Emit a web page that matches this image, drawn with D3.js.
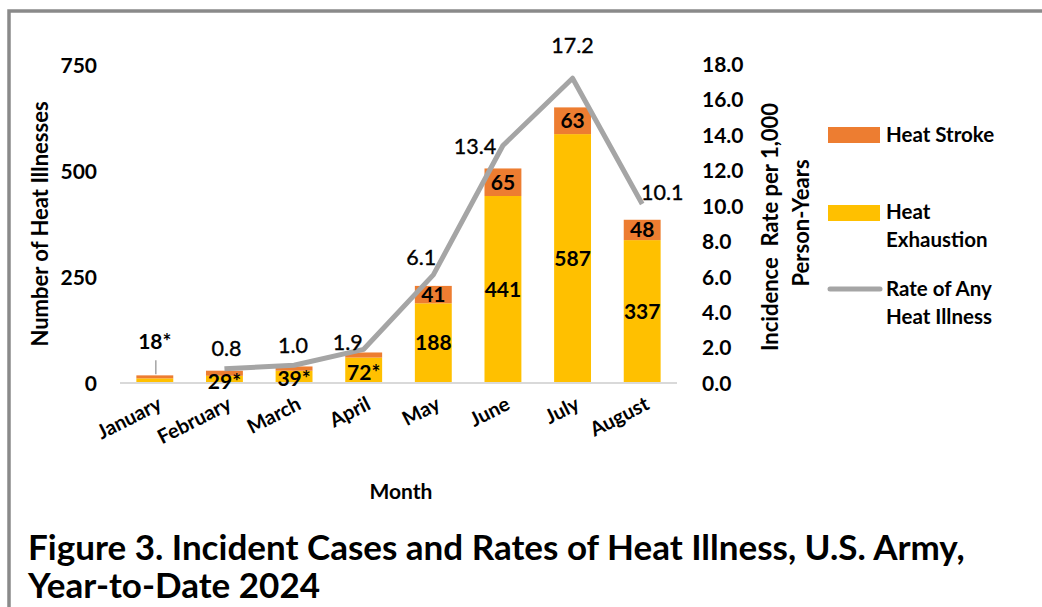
<!DOCTYPE html>
<html>
<head>
<meta charset="utf-8">
<script src="https://cdn.jsdelivr.net/npm/d3@7"></script>
<style>
  html, body { margin: 0; padding: 0; background: #fff; }
  svg { display: block; font-family: Lato, "Open Sans", sans-serif; }
</style>
</head>
<body>
<svg id="chart" width="1042" height="607"></svg>
<script>
// ---------- data ----------
const months = ["January", "February", "March", "April", "May", "June", "July", "August"];
const heatExhaustion = [11, 17, 29, 60, 188, 441, 587, 337];
const heatStroke = [7, 12, 10, 12, 41, 65, 63, 48];
const exhaustionLabels = ["18*", "29*", "39*", "72*", "188", "441", "587", "337"];
const strokeLabels = ["", "", "", "", "41", "65", "63", "48"];
const rateMonths = ["February", "March", "April", "May", "June", "July", "August"];
const rates = [0.8, 1.0, 1.9, 6.1, 13.4, 17.2, 10.1];
const leftTicks = [0, 250, 500, 750];
const rightTicks = [0, 2, 4, 6, 8, 10, 12, 14, 16, 18];

// ---------- layout (not data) ----------
const rateLabelOffsets = [[2, -20], [-1, -20], [-16, -7], [-12, -17], [-28, 1], [0, -33], [20, -12]];
const COLORS = { stroke: "#ED7D31", exhaustion: "#FFC000", rate: "#A5A5A5" };

const svg = d3.select("#chart");
svg.append("rect").attr("width", 1042).attr("height", 607).attr("fill", "#fff");
// outer frame
svg.append("rect").attr("x", 9).attr("y", 11).attr("width", 1100).attr("height", 700)
  .attr("fill", "none").attr("stroke", "#8a8a8a").attr("stroke-width", 3.5);

const x = d3.scaleBand().domain(months).range([120, 677]).paddingInner(0.47).paddingOuter(0.235);
const yL = d3.scaleLinear().domain([0, 750]).range([383, 65]);
const yR = d3.scaleLinear().domain([0, 18]).range([383, 64]);

// left axis
const gL = svg.append("g").attr("transform", "translate(97,0)")
  .call(d3.axisLeft(yL).tickValues(leftTicks).tickSize(0).tickPadding(0));
gL.select(".domain").remove();
gL.selectAll("text").attr("font-size", 21).attr("font-weight", 700).attr("fill", "#000")
  .attr("font-family", "Lato").attr("dy", "0.35em");

// right axis
const gR = svg.append("g").attr("transform", "translate(702,0)")
  .call(d3.axisRight(yR).tickValues(rightTicks).tickFormat(d3.format(".1f")).tickSize(0).tickPadding(0));
gR.select(".domain").remove();
gR.selectAll("text").attr("font-size", 21).attr("font-weight", 700).attr("fill", "#000")
  .attr("font-family", "Lato").attr("dy", "0.35em");

// stacked bars
const stackData = months.map((m, i) => ({ month: m, exhaustion: heatExhaustion[i], stroke: heatStroke[i] }));
const series = d3.stack().keys(["exhaustion", "stroke"])(stackData);
svg.append("g").selectAll("g").data(series).join("g")
  .attr("fill", d => COLORS[d.key])
  .selectAll("rect").data(d => d).join("rect")
  .attr("x", d => x(d.data.month))
  .attr("width", x.bandwidth())
  .attr("y", d => yL(d[1]))
  .attr("height", d => yL(d[0]) - yL(d[1]));

// baseline
svg.append("line").attr("x1", 120).attr("x2", 677).attr("y1", yL(0)).attr("y2", yL(0))
  .attr("stroke", "#D9D9D9").attr("stroke-width", 2);

// line
const line = d3.line().x((d, i) => x(rateMonths[i]) + x.bandwidth() / 2).y(d => yR(d));
svg.append("path").datum(rates).attr("d", line).attr("fill", "none")
  .attr("stroke", COLORS.rate).attr("stroke-width", 5).attr("stroke-linejoin", "round");

// bar labels
const lbl = svg.append("g").attr("font-family", "Lato").attr("font-weight", 700).attr("font-size", 21)
  .attr("text-anchor", "middle").attr("fill", "#000");
months.forEach((m, i) => {
  const cx = x(m) + x.bandwidth() / 2;
  const s = series[0][i];
  if (i === 0) {
    const top = yL(heatExhaustion[i] + heatStroke[i]);
    svg.append("line").attr("x1", cx + 1).attr("x2", cx + 1).attr("y1", top - 15).attr("y2", top - 1)
      .attr("stroke", "#A5A5A5").attr("stroke-width", 1.5);
    lbl.append("text").attr("x", cx).attr("y", top - 34).attr("dy", "0.35em").text(exhaustionLabels[i]);
  } else {
    const yc = (yL(s[0]) + yL(s[1])) / 2 + (i < 4 ? 2 : 0);
    lbl.append("text").attr("x", cx).attr("y", yc).attr("dy", "0.35em").text(exhaustionLabels[i]);
  }
  if (strokeLabels[i]) {
    const t = series[1][i];
    lbl.append("text").attr("x", cx).attr("y", (yL(t[0]) + yL(t[1])) / 2).attr("dy", "0.35em").text(strokeLabels[i]);
  }
});

// rate labels
svg.append("g").attr("font-family", "Lato").attr("font-size", 21.5).attr("text-anchor", "middle")
  .attr("fill", "#000").attr("stroke", "#000").attr("stroke-width", 0.35)
  .selectAll("text").data(rates).join("text")
  .attr("x", (d, i) => x(rateMonths[i]) + x.bandwidth() / 2 + rateLabelOffsets[i][0])
  .attr("y", (d, i) => yR(d) + rateLabelOffsets[i][1])
  .attr("dy", "0.35em").text(d => d3.format(".1f")(d));

// x labels
svg.append("g").attr("font-family", "Lato").attr("font-weight", 700).attr("font-size", 20)
  .selectAll("text").data(months).join("text")
  .attr("text-anchor", "end")
  .attr("transform", d => `translate(${x(d) + x.bandwidth() / 2 + 2},${396}) rotate(-27)`)
  .attr("dy", "0.7em").text(d => d);

// axis titles
const tt = svg.append("g").attr("font-family", "Lato").attr("font-weight", 700).attr("font-size", 22)
  .attr("text-anchor", "middle");
tt.append("text").attr("transform", "translate(40,224) rotate(-90)").attr("dy", "0.35em").text("Number of Heat Illnesses");
tt.append("text").attr("transform", "translate(770,227) rotate(-90)").attr("dy", "0.35em")
  .attr("xml:space", "preserve").style("white-space", "pre").text("Incidence  Rate per 1,000");
tt.append("text").attr("transform", "translate(801,223) rotate(-90)").attr("dy", "0.35em").text("Person-Years");
tt.append("text").attr("x", 401).attr("y", 492).attr("dy", "0.35em").attr("font-size", 21).text("Month");

// legend
const lg = svg.append("g").attr("font-family", "Lato").attr("font-weight", 700).attr("font-size", 20.5);
lg.append("rect").attr("x", 828).attr("y", 127).attr("width", 52).attr("height", 16).attr("fill", COLORS.stroke);
lg.append("text").attr("x", 886).attr("y", 135).attr("dy", "0.35em").text("Heat Stroke");
lg.append("rect").attr("x", 828).attr("y", 205).attr("width", 52).attr("height", 16).attr("fill", COLORS.exhaustion);
lg.append("text").attr("x", 886).attr("y", 212).attr("dy", "0.35em").text("Heat");
lg.append("text").attr("x", 886).attr("y", 240).attr("dy", "0.35em").text("Exhaustion");
lg.append("line").attr("x1", 830).attr("x2", 880).attr("y1", 289).attr("y2", 289)
  .attr("stroke", COLORS.rate).attr("stroke-width", 5).attr("stroke-linecap", "round");
lg.append("text").attr("x", 886).attr("y", 289).attr("dy", "0.35em").text("Rate of Any");
lg.append("text").attr("x", 886).attr("y", 317).attr("dy", "0.35em").text("Heat Illness");

// figure title
const tg = svg.append("g").attr("font-family", "Lato").attr("font-weight", 700).attr("font-size", 34);
const t1 = tg.append("text").attr("x", 0).attr("y", 548).attr("dy", "0.35em")
  .text("Figure 3. Incident Cases and Rates of Heat Illness, U.S. Army,");
tg.append("text").attr("x", 0).attr("y", 586).attr("dy", "0.35em").text("Year-to-Date 2024");
const w = t1.node().getComputedTextLength();
const sx = 937 / w;
tg.attr("transform", `translate(28,0) scale(${sx},1)`);
</script>
</body>
</html>
